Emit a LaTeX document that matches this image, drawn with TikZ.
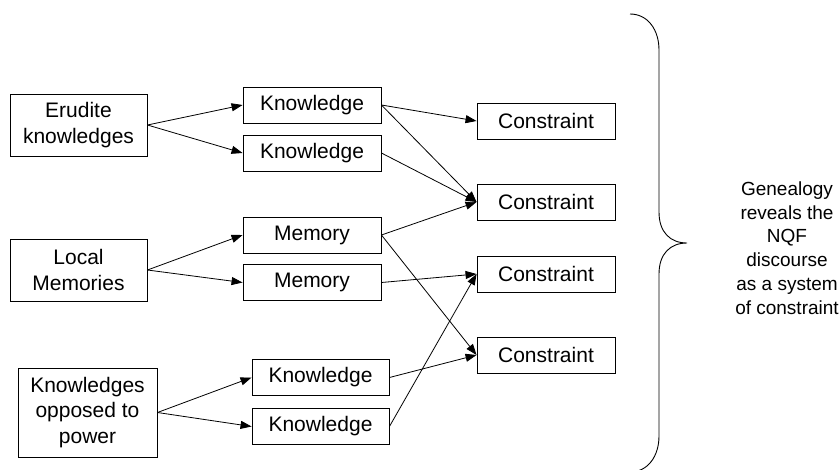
\documentclass[tikz,border=0pt]{standalone}
\usepackage{fontspec}
\setmainfont{Liberation Sans}
\usetikzlibrary{arrows.meta}
\tikzset{
  box/.style={draw, line width=0.9pt, inner sep=0pt, align=center,
    font=\fontsize{21}{25.5}\selectfont},
  smallbox/.style={box, minimum width=138pt, minimum height=36pt},
  bigbox/.style={box, minimum width=137pt, minimum height=62pt},
  conn/.style={line width=0.8pt, -{Triangle[length=11pt,width=8pt]}},
  plain/.style={line width=0.9pt},
}
\begin{document}
\begin{tikzpicture}[x=1pt,y=-1pt]
\clip (0,0) rectangle (840,469);
\fill[white] (0,0) rectangle (840,469);
% left sources
\node[bigbox] (E) at (78.5,125) {Erudite\\knowledges};
\node[bigbox] (L) at (78.5,270) {Local\\Memories};
\node[bigbox, minimum width=139pt, minimum height=89pt] (P) at (87.5,412.5) {Knowledges\\opposed to\\power};
% middle
\node[smallbox] (K1) at (312,105) {Knowledge};
\node[smallbox] (K2) at (312,153) {Knowledge};
\node[smallbox] (M1) at (312,235) {Memory};
\node[smallbox] (M2) at (312,282.5) {Memory};
\node[smallbox, minimum width=137pt] (K3) at (320.5,377.5) {Knowledge};
\node[smallbox, minimum width=137pt] (K4) at (320.5,426.5) {Knowledge};
% constraints
\node[smallbox] (C1) at (546,121) {Constraint};
\node[smallbox] (C2) at (546,202) {Constraint};
\node[smallbox] (C3) at (546,274) {Constraint};
\node[smallbox] (C4) at (546,355) {Constraint};
% connectors
\draw[conn] (E.east) -- (K1.west);
\draw[conn] (E.east) -- (K2.west);
\draw[conn] (L.east) -- (M1.west);
\draw[conn] (L.east) -- (M2.west);
\draw[conn] (P.east) -- (K3.west);
\draw[conn] (P.east) -- (K4.west);
\draw[conn] (K1.east) -- (C1.west);
\draw[conn] (K1.east) -- (C2.west);
\draw[conn] (K2.east) -- (C2.west);
\draw[conn] (M1.east) -- (C2.west);
\draw[conn] (M1.east) -- (C4.west);
\draw[conn] (M2.east) -- (C3.west);
\draw[conn] (K3.east) -- (C4.west);
\draw[conn] (K4.east) -- (C3.west);
% brace
\coordinate (btop) at (630,14);
\coordinate (btip) at (687,243);
\coordinate (bbot) at (630,472);
\draw[plain] (btop) .. controls (648,14) and (659,30) .. (659,50) -- (659,212)
  .. controls (659,232) and (670,243) .. (btip)
  .. controls (670,243) and (659,254) .. (659,274) -- (659,436)
  .. controls (659,456) and (648,472) .. (bbot);
\node[align=center, inner sep=0pt, font=\fontsize{19}{23.7}\selectfont] (G) at (787,248)
  {Genealogy\\reveals the\\NQF\\discourse\\as a system\\of constraint};
\end{tikzpicture}
\end{document}
